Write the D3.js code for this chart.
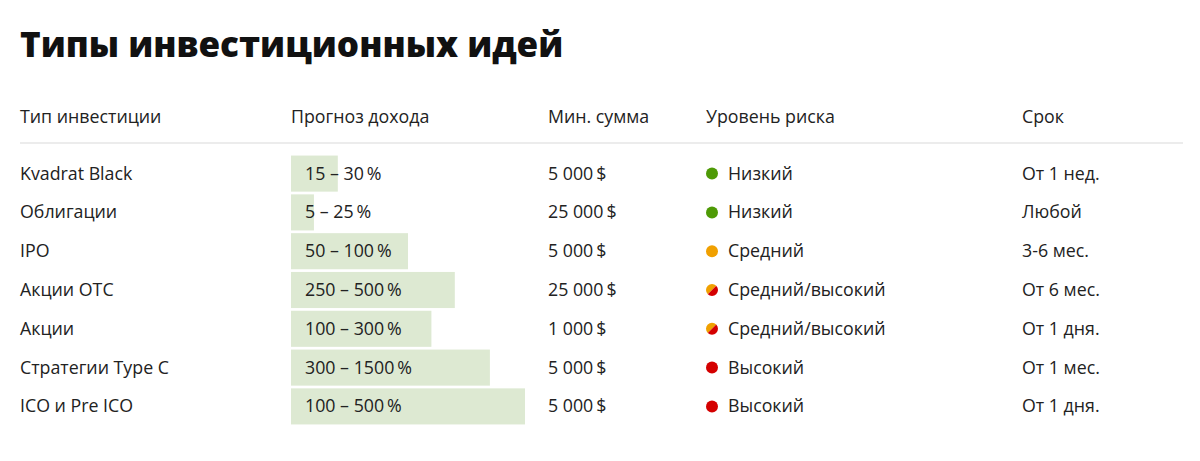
<!DOCTYPE html><html><head><meta charset="utf-8"><script src="https://cdn.jsdelivr.net/npm/d3@7"></script>
<style>body{margin:0;background:#fff}text{font-family:"Open Sans",sans-serif}</style></head><body><svg id="c" width="1200" height="461"></svg>
<script>
const title="Типы инвестиционных идей";
const headers=["Тип инвестиции","Прогноз дохода","Мин. сумма","Уровень риска","Срок"];
const categories=["Kvadrat Black","Облигации","IPO","Акции OTC","Акции","Стратегии Type C","ICO и Pre ICO"];
const incomeLabels=["15 – 30\u2009%","5 – 25\u2009%","50 – 100\u2009%","250 – 500\u2009%","100 – 300\u2009%","300 – 1500\u2009%","100 – 500\u2009%"];
const barValues=[20,9.8,50,70,60,85,100];
const minSums=["5 000\u2009$","25 000\u2009$","5 000\u2009$","25 000\u2009$","1 000\u2009$","5 000\u2009$","5 000\u2009$"];
const riskLevels=["Низкий","Низкий","Средний","Средний/высокий","Средний/высокий","Высокий","Высокий"];
const terms=["От 1 нед.","Любой","3-6 мес.","От 6 мес.","От 1 дня.","От 1 мес.","От 1 дня."];
const riskColors={"Низкий":["#4e9a06","#4e9a06"],"Средний":["#f0a000","#f0a000"],"Средний/высокий":["#f0a000","#d40000"],"Высокий":["#d40000","#d40000"]};
const colX=[20,291,548,706,1022];
const svg=d3.select("#c");
svg.append("text").attr("x",20).attr("y",57).attr("font-size",35).attr("font-weight",800).attr("fill","#111").text(title);
svg.selectAll(".h").data(headers).join("text").attr("x",(d,i)=>colX[i]).attr("y",123).attr("font-size",17.8).attr("fill","#222").text(d=>d);
svg.append("line").attr("x1",20).attr("x2",1183).attr("y1",143).attr("y2",143).attr("stroke","#e6e6e6").attr("stroke-width",1.5);
const y=d3.scaleBand().domain(categories).range([154,426]).paddingInner(0.07).paddingOuter(0.04);
const x=d3.scaleLinear().domain([0,100]).range([0,234]);
const g=svg.selectAll(".r").data(categories).join("g").attr("transform",d=>`translate(0,${y(d)})`);
const h=y.bandwidth(),cy=h/2+6,fs=17.8;
g.append("rect").attr("x",colX[1]).attr("width",(d,i)=>x(barValues[i])).attr("height",h).attr("fill","#dde9d2");
g.append("text").attr("x",colX[0]).attr("y",cy).attr("font-size",fs).attr("fill","#222").text(d=>d);
g.append("text").attr("x",colX[1]+14).attr("y",cy).attr("font-size",fs).attr("fill","#222").text((d,i)=>incomeLabels[i]);
g.append("text").attr("x",colX[2]).attr("y",cy).attr("font-size",fs).attr("fill","#222").text((d,i)=>minSums[i]);
g.append("text").attr("x",colX[3]+22).attr("y",cy).attr("font-size",fs).attr("fill","#222").text((d,i)=>riskLevels[i]);
g.append("text").attr("x",colX[4]).attr("y",cy).attr("font-size",fs).attr("fill","#222").text((d,i)=>terms[i]);
const r=6,cx=colX[3]+6;
g.each(function(d,i){const c=riskColors[riskLevels[i]];const s=d3.select(this);const yy=h/2;
 if(c[0]===c[1]){s.append("circle").attr("cx",cx).attr("cy",yy).attr("r",r).attr("fill",c[0]);}
 else{const a=r*Math.SQRT1_2;
  s.append("path").attr("d",`M${cx-a},${yy+a}A${r},${r} 0 0 1 ${cx+a},${yy-a}Z`).attr("fill",c[0]);
  s.append("path").attr("d",`M${cx+a},${yy-a}A${r},${r} 0 0 1 ${cx-a},${yy+a}Z`).attr("fill",c[1]);}
});
</script></body></html>
